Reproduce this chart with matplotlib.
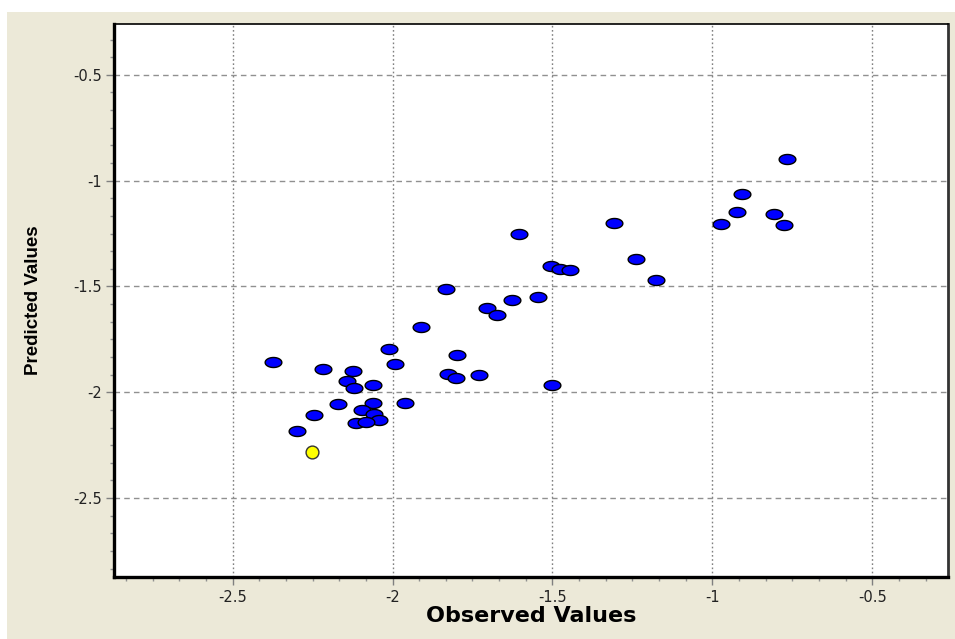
import numpy as np
import matplotlib
matplotlib.use("Agg")
import matplotlib.pyplot as plt
from matplotlib.path import Path
from matplotlib.patches import Rectangle
from matplotlib.ticker import MultipleLocator

# observed vs predicted (training set)
observed = [-0.765, -0.906, -0.924, -0.973, -0.808, -0.777, -1.306, -1.606,
            -1.239, -1.177, -1.504, -1.476, -1.444, -1.546, -1.626, -1.704,
            -1.673, -1.833, -1.912, -2.012, -1.992, -1.798, -1.825, -1.803,
            -1.730, -2.375, -2.216, -2.123, -2.142, -2.122, -2.061, -2.172,
            -2.061, -1.962, -2.095, -2.057, -2.042, -2.115, -2.083, -2.247,
            -2.300, -1.500]
predicted = [-0.897, -1.061, -1.146, -1.205, -1.157, -1.209, -1.199, -1.254,
             -1.369, -1.470, -1.405, -1.418, -1.424, -1.551, -1.562, -1.604,
             -1.636, -1.513, -1.690, -1.794, -1.867, -1.822, -1.912, -1.931,
             -1.919, -1.859, -1.892, -1.901, -1.945, -1.980, -1.965, -2.054,
             -2.049, -2.049, -2.085, -2.104, -2.130, -2.147, -2.142, -2.109,
             -2.182, -1.967]

# test compound
test_observed = [-2.251]
test_predicted = [-2.280]

xticks = [-2.5, -2, -1.5, -1, -0.5]
yticks = [-0.5, -1, -1.5, -2, -2.5]

plt.rcParams['axes.unicode_minus'] = False

# flattened ellipse marker
t = np.linspace(0, 2 * np.pi, 41)
ellipse = Path(np.column_stack([np.cos(t), 0.6 * np.sin(t)]), closed=True)

fig = plt.figure(figsize=(9.55, 6.39), dpi=100, facecolor='white')
fig.patches.append(Rectangle((7 / 955, 0), 1, 1 - 12 / 639, transform=fig.transFigure,
                             facecolor='#ECE9D8', edgecolor='none', zorder=-10))

ax = fig.add_axes([114 / 955, 1 - 577 / 639, (948 - 114) / 955, (577 - 24) / 639])
ax.set_facecolor('white')

ax.scatter(observed, predicted, marker=ellipse, s=145, c='#0000FF',
           edgecolors='black', linewidths=1.0, zorder=3)
ax.scatter(test_observed, test_predicted, marker='o', s=85, c='#FFFF00',
           edgecolors='#333333', linewidths=1.0, zorder=3)

ax.set_xlim(-2.871, -0.263)
ax.set_ylim(-2.873, -0.26)
ax.set_xticks(xticks)
ax.set_yticks(yticks)
ax.set_xticklabels([f"{v:g}" for v in xticks])
ax.set_yticklabels([f"{v:g}" for v in yticks])
ax.xaxis.set_minor_locator(MultipleLocator(0.5 / 6))
ax.yaxis.set_minor_locator(MultipleLocator(0.5 / 6))

ax.tick_params(which='major', length=6, width=1, color='#808080',
               labelsize=10.5, labelcolor='#222222', pad=3)
ax.tick_params(which='minor', length=3, width=1, color='#909090')

ax.xaxis.grid(True, linestyle=(0, (1.2, 1.8)), color='#808080', linewidth=1.0)
ax.yaxis.grid(True, linestyle=(0, (4, 3)), color='#909090', linewidth=1.0)
ax.set_axisbelow(True)

ax.spines['left'].set_linewidth(2.4)
ax.spines['bottom'].set_linewidth(2.4)
ax.spines['top'].set_linewidth(1.2)
ax.spines['right'].set_linewidth(2.0)
ax.spines['right'].set_color('#333333')

ax.set_xlabel("Observed Values", fontsize=16, fontweight='bold',
              family=['DejaVu Sans'], labelpad=1)
fig.text(34 / 955, 1 - 300 / 639, "Predicted Values", rotation=90,
         fontsize=13.5, fontweight='bold', ha='center', va='center',
         family=['Liberation Sans', 'DejaVu Sans'])

fig.savefig("out.png", dpi=100, facecolor=fig.get_facecolor())
